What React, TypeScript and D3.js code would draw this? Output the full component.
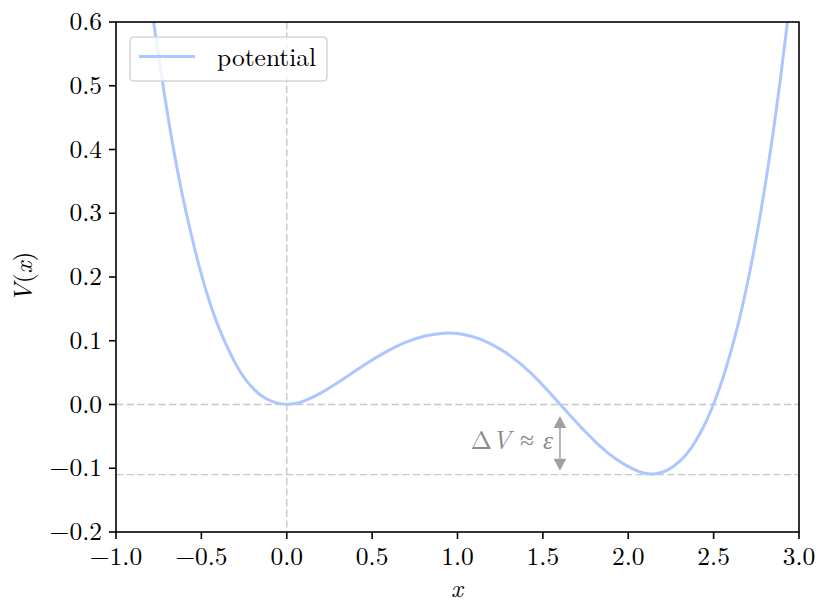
import React from "react";
import * as d3 from "d3";

// potential curve samples
const xValues = [-0.80, -0.78, -0.75, -0.72, -0.69, -0.66, -0.61, -0.556, -0.512, -0.46, -0.41, -0.36, -0.30, -0.245, -0.18, -0.13, -0.08, -0.04, 0.0, 0.05, 0.10, 0.19, 0.30, 0.45, 0.58, 0.70, 0.81, 0.92, 1.03, 1.13, 1.25, 1.37, 1.49, 1.60, 1.72, 1.83, 1.93, 2.03, 2.09, 2.15, 2.23, 2.31, 2.37, 2.42, 2.46, 2.50, 2.55, 2.60, 2.65, 2.69, 2.73, 2.77, 2.81, 2.85, 2.89, 2.93, 2.95];
const vValues = [0.64, 0.60, 0.545, 0.492, 0.442, 0.395, 0.325, 0.262, 0.215, 0.166, 0.128, 0.096, 0.063, 0.039, 0.020, 0.010, 0.004, 0.001, 0.0, 0.001, 0.005, 0.016, 0.034, 0.062, 0.083, 0.099, 0.108, 0.113, 0.111, 0.104, 0.088, 0.065, 0.034, 0.0, -0.035, -0.065, -0.087, -0.102, -0.108, -0.110, -0.105, -0.088, -0.069, -0.046, -0.025, 0.0, 0.037, 0.081, 0.132, 0.179, 0.232, 0.291, 0.356, 0.428, 0.507, 0.595, 0.64];

const xTicks = [-1.0, -0.5, 0.0, 0.5, 1.0, 1.5, 2.0, 2.5, 3.0];
const yTicks = [-0.2, -0.1, 0.0, 0.1, 0.2, 0.3, 0.4, 0.5, 0.6];

const refH = [0.0, -0.11];
const refV = [0.0];
const arrowX = 1.6;
const arrowRange = [0.0, -0.11];
const legendLabel = "potential";

const W = 830, H = 615;
const left = 116, right = 799, top = 22, bottom = 532;
const FONT = '"Latin Modern Roman"';
const txt = (extra: any = {}) => ({ fontFamily: FONT, fontSize: "25.5px", ...extra });

const fmt = (v: number) => {
  const s = Math.abs(v).toFixed(1);
  return v < -1e-9 ? "\u2212" + s : s;
};

export default function App() {
  const x = d3.scaleLinear().domain([-1, 3]).range([left, right]);
  const y = d3.scaleLinear().domain([-0.2, 0.6]).range([bottom, top]);
  const pts: [number, number][] = xValues.map((v, i) => [v, vValues[i]]);
  const line = d3
    .line<[number, number]>()
    .x((d) => x(d[0]))
    .y((d) => y(d[1]))
    .curve(d3.curveBasis);

  const ax = x(arrowX);
  const tipTop = y(arrowRange[0]) + 11.5;
  const tipBot = y(arrowRange[1]) - 4;
  const head = 12;
  const hw = 6.3;

  return (
    <svg width={W} height={H} style={{ position: "absolute", left: 0, top: 0, background: "#fff" }}>
      <defs>
        <clipPath id="plotclip">
          <rect x={left} y={top} width={right - left} height={bottom - top} />
        </clipPath>
      </defs>
      <rect x={0} y={0} width={W} height={H} fill="#fff" />
      <g clipPath="url(#plotclip)">
        {refH.map((v, i) => (
          <line key={"h" + i} x1={left} x2={right} y1={y(v)} y2={y(v)} stroke="#c8c8c8" strokeWidth={1.4} strokeDasharray="7.4,3.2" />
        ))}
        {refV.map((v, i) => (
          <line key={"v" + i} x1={x(v)} x2={x(v)} y1={top} y2={bottom} stroke="#c8c8c8" strokeWidth={1.4} strokeDasharray="7.4,3.2" />
        ))}
        <path d={line(pts) || ""} fill="none" stroke="#aec6ff" strokeWidth={3} />
        {/* double arrow */}
        <line x1={ax} x2={ax} y1={tipTop + head} y2={tipBot - head} stroke="#b4b4b4" strokeWidth={2} />
        <path d={`M${ax},${tipTop} L${ax - hw},${tipTop + head} L${ax + hw},${tipTop + head} Z`} fill="#a0a0a0" />
        <path d={`M${ax},${tipBot} L${ax - hw},${tipBot - head} L${ax + hw},${tipBot - head} Z`} fill="#a0a0a0" />
        <text x={ax - 7} y={449} textAnchor="end" style={txt({ fill: "#8a8a8a" })}>
          {"\u0394"}
          <tspan style={{ fontStyle: "italic" }}>V</tspan>
          <tspan dx={9}>{"\u2248"}</tspan>
          <tspan dx={9} style={{ fontStyle: "italic" }}>{"\u03b5"}</tspan>
        </text>
      </g>

      {/* legend */}
      <rect x={130} y={37} width={197} height={44} rx={4} ry={4} fill="#fff" fillOpacity={0.8} stroke="#d6d6d6" strokeWidth={1.6} />
      <line x1={139} x2={195} y1={56.5} y2={56.5} stroke="#aec6ff" strokeWidth={3} />
      <text x={217} y={66} style={txt({ fill: "#000" })}>
        {legendLabel}
      </text>

      {/* frame */}
      <rect x={left} y={top} width={right - left} height={bottom - top} fill="none" stroke="#000" strokeWidth={1.6} />

      {/* x ticks */}
      {xTicks.map((t) => (
        <g key={"xt" + t}>
          <line x1={x(t)} x2={x(t)} y1={bottom} y2={bottom + 7} stroke="#000" strokeWidth={1.6} />
          <text x={x(t)} y={565} textAnchor="middle" style={txt({ fill: "#000" })}>
            {fmt(t)}
          </text>
        </g>
      ))}
      {/* y ticks */}
      {yTicks.map((t) => (
        <g key={"yt" + t}>
          <line x1={left - 7} x2={left} y1={y(t)} y2={y(t)} stroke="#000" strokeWidth={1.6} />
          <text x={102} y={y(t) + 8} textAnchor="end" style={txt({ fill: "#000" })}>
            {fmt(t)}
          </text>
        </g>
      ))}

      <text x={457} y={597} textAnchor="middle" style={txt({ fill: "#000", fontStyle: "italic" })}>
        x
      </text>
      <text transform="translate(32,277) rotate(-90)" textAnchor="middle" style={txt({ fill: "#000" })}>
        <tspan style={{ fontStyle: "italic" }}>V</tspan>
        <tspan>(</tspan>
        <tspan style={{ fontStyle: "italic" }}>x</tspan>
        <tspan>)</tspan>
      </text>
    </svg>
  );
}
